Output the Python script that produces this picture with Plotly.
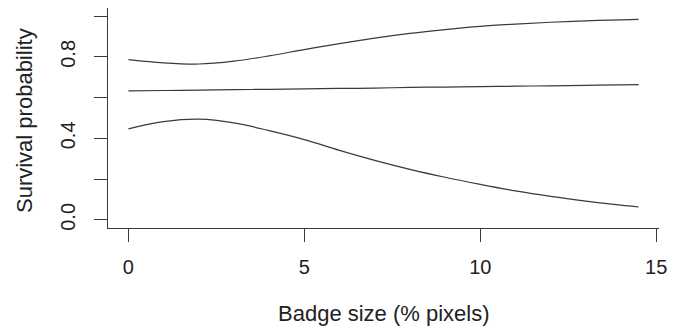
import plotly.graph_objects as go

# Data
x_vals = [0, 1, 2, 3, 4, 5, 6, 7, 8, 9, 10, 11, 12, 13, 14, 14.5]
upper = [0.787, 0.771, 0.765, 0.779, 0.805, 0.836, 0.865, 0.892, 0.915, 0.934, 0.950,
         0.961, 0.970, 0.977, 0.982, 0.984]
estimate = [0.633, 0.635, 0.637, 0.639, 0.641, 0.643, 0.645, 0.647, 0.650, 0.652, 0.654,
            0.656, 0.658, 0.660, 0.663, 0.664]
lower = [0.447, 0.482, 0.494, 0.476, 0.438, 0.394, 0.341, 0.292, 0.248, 0.209, 0.174,
         0.142, 0.115, 0.092, 0.072, 0.063]

x_ticks = [0, 5, 10, 15]
x_tick_labels = ["0", "5", "10", "15"]
y_ticks = [0.0, 0.2, 0.4, 0.6, 0.8, 1.0]
y_tick_labels = ["0.0", "", "0.4", "", "0.8", ""]

line_color = "#3a3a3a"
text_color = "#222222"
font_family = "Liberation Sans, Arial, sans-serif"

fig = go.Figure()
for name, ys in [("upper", upper), ("estimate", estimate), ("lower", lower)]:
    fig.add_trace(go.Scatter(x=x_vals, y=ys, mode="lines", name=name,
                             line=dict(color=line_color, width=1.2, shape="spline"),
                             showlegend=False, hoverinfo="skip"))

axis_common = dict(showgrid=False, zeroline=False, showline=True, linecolor=line_color,
                   linewidth=1.3, ticks="outside", ticklen=13, tickwidth=1.3,
                   tickcolor=line_color, tickfont=dict(size=20, color=text_color,
                                                       family=font_family))

fig.update_layout(
    width=686, height=332,
    margin=dict(l=108, r=27, t=8, b=104),
    paper_bgcolor="white", plot_bgcolor="white",
    font=dict(family=font_family, color=text_color),
    xaxis=dict(range=[-0.58, 15.08], tickvals=x_ticks, ticktext=x_tick_labels,
               ticklabelstandoff=8, **axis_common),
    yaxis=dict(range=[-0.04, 1.04], tickvals=y_ticks, ticktext=y_tick_labels,
               tickangle=-90, ticklabelstandoff=11, **axis_common),
    annotations=[
        dict(text="Badge size (% pixels)", xref="paper", yref="paper", x=0.5, y=0,
             xanchor="center", yanchor="middle", yshift=-85, showarrow=False,
             font=dict(size=22, color=text_color, family=font_family)),
        dict(text="Survival probability", xref="paper", yref="paper", x=0, y=0.5,
             xanchor="center", yanchor="middle", xshift=-84, yshift=-3, textangle=-90,
             showarrow=False, font=dict(size=22, color=text_color, family=font_family)),
    ],
)

fig.write_html("out.html", config={"displayModeBar": False},
               post_script="document.body.style.margin='0';")
